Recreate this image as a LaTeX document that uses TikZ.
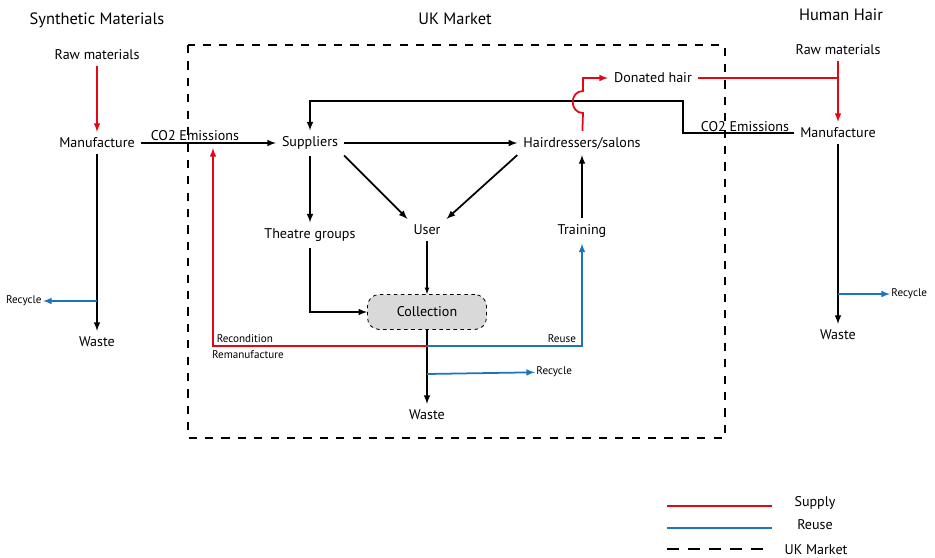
\documentclass[tikz,border=0pt]{standalone}
\usepackage{fontspec}
\setmainfont{PT Sans}
\usetikzlibrary{positioning,arrows}
\definecolor{colorsup}{HTML}{E30613}
\definecolor{colorreu}{HTML}{1B75BC}
\definecolor{colorcol}{HTML}{D9D9D9}
\tikzset{
  box/.style={draw=none, inner sep=5pt, font=\fontsize{12}{14}\selectfont},
  tiny/.style={draw=none, inner sep=1pt, font=\fontsize{9.5}{11}\selectfont},
  head/.style={draw=none, inner sep=1pt, font=\fontsize{14}{16}\selectfont},
  edgeflow/.style={black, line width=1.5pt, -latex},
  edgethin/.style={black, line width=0.9pt, -latex},
  edgesup/.style={colorsup, line width=1.5pt, -latex},
  edgereu/.style={colorreu, line width=1.5pt, -latex},
  market/.style={black, line width=0.9pt, dash pattern=on 7pt off 7pt}
}

\begin{document}
\begin{tikzpicture}[x=0.03cm, y=-0.03cm]
\useasboundingbox (0,0) rectangle (935,557);

% market boundary
\draw[market] (188,45) rectangle (725,438);

% headings
\node[head](synHead) at (97,20) {Synthetic Materials};
\node[head](ukHead) at (455,19) {UK Market};
\node[head](hhHead) at (841,15) {Human Hair};

% synthetic side
\node[box](synRaw) at (97,55) {Raw materials};
\node[box](synMan) at (97,143) {Manufacture};
\node[box](synWaste) at (97,342) {Waste};
\node[tiny, anchor=east](synRecycle) at (43,301) {Recycle};
\coordinate (synSplit) at (97,301);

% market
\node[box](supp) at (310,143) {Suppliers};
\node[box](hair) at (582,143) {Hairdressers/salons};
\node[box](theatre) at (310,235) {Theatre groups};
\node[box](user) at (427,230) {User};
\node[box](train) at (582,231) {Training};
\node[box, draw=black, dashed, fill=colorcol, rounded corners=10pt,
  minimum width=3.57cm, minimum height=1.05cm, line width=0.7pt](coll) at (427,312) {Collection};
\node[box](waste) at (427,415) {Waste};
\node[tiny, anchor=west](recycle) at (535,372) {Recycle};
\node[box, anchor=west](donated) at (608,78) {Donated hair};
\coordinate (split) at (427,346);
\coordinate (recSplit) at (427,374);
\coordinate (remTop) at (213,148);
\coordinate (hopLow) at (583,113);
\coordinate (hopHigh) at (583,91);
\coordinate (loopCorner) at (683,101);

% human hair side
\node[box](hhRaw) at (838,50) {Raw materials};
\node[box](hhMan) at (838,133) {Manufacture};
\node[box](hhWaste) at (838,335) {Waste};
\node[tiny, anchor=west](hhRecycle) at (890,294) {Recycle};
\coordinate (hhSplit) at (838,294);
\coordinate (hhJoin) at (donated -| hhRaw);

% synthetic flows
\draw[edgesup] (synRaw) -- (synMan);
\draw[edgeflow] (synMan) -- (synWaste);
\draw[edgereu] (synSplit) -- (synRecycle);
\draw[edgeflow] (synMan) -- node[box, above, inner sep=1pt, pos=0.4] {CO2 Emissions} (supp);

% market flows
\draw[edgeflow] (supp) -- (hair);
\draw[edgeflow] (supp) -- (theatre);
\draw[edgeflow] (supp.south east) -- (user.north west);
\draw[edgeflow] (hair.south west) -- (user.north east);
\draw[edgeflow] (train) -- (hair);
\draw[edgethin] (user) -- (coll);
\draw[edgeflow] (theatre) |- (coll.west);
\draw[edgeflow] (coll) -- (waste);
\draw[edgereu] (recSplit) -- (recycle);
\draw[edgesup] (split) -| (remTop);
\draw[edgereu] (split) -| (train);
\node[tiny, above right=2pt and 2pt of split -| remTop](recond) {Recondition};
\node[tiny, below right=3pt and -2pt of split -| remTop](reman) {Remanufacture};
\node[tiny, above left=2pt and 4pt of split -| train](reuse) {Reuse};

% human hair flows
\draw[edgeflow] (hhMan.west) -| (loopCorner) -| (supp);
\node[box, inner sep=1pt](co2) at (745,127) {CO2 Emissions};
\draw[edgesup] (hair) -- (hopLow) to[out=180, in=180, looseness=1.6] (hopHigh) |- (donated);
\draw[colorsup, line width=1.5pt] (donated) -- (hhJoin);
\draw[edgesup] (hhRaw) -- (hhMan);
\draw[edgeflow] (hhMan) -- (hhWaste);
\draw[edgereu] (hhSplit) -- (hhRecycle);

% key
\coordinate (keyA) at (667,506);
\coordinate (keyB) at (772,506);
\coordinate (keyC) at (667,528);
\coordinate (keyD) at (772,528);
\coordinate (keyE) at (667,549);
\coordinate (keyF) at (772,549);
\draw[colorsup, line width=1.5pt] (keyA) -- (keyB);
\draw[colorreu, line width=1.5pt] (keyC) -- (keyD);
\draw[black, line width=1.8pt, dash pattern=on 10pt off 8pt] (keyE) -- (keyF);
\node[box](keySup) at (815,503) {Supply};
\node[box](keyReu) at (815,525) {Reuse};
\node[box](keyMkt) at (816,550) {UK Market};
\end{tikzpicture}
\end{document}
